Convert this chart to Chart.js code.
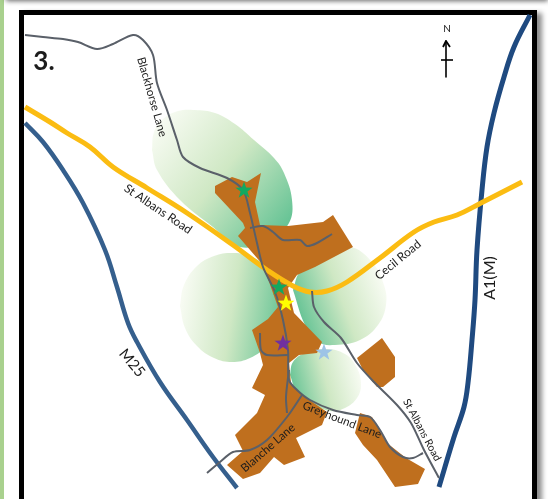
<!DOCTYPE html>
<html>
<head>
<meta charset="utf-8">
<title>Map 3</title>
<script src="https://cdn.jsdelivr.net/npm/chart.js@4"></script>
<style>
  html, body { margin: 0; padding: 0; background: #fff; overflow: hidden; }
  #strip { position: absolute; left: 0; top: 0; width: 4px; height: 499px; background: #a9d18e; }
  #topshade { position: absolute; left: 6px; top: -8px; width: 542px; height: 8px; box-shadow: 0 1px 5px rgba(0,0,0,.6); }
  #frame { position: absolute; left: 19px; top: 10px; width: 508px; height: 520px; border: 5px solid #000; box-shadow: 5px 3px 5px rgba(0,0,0,.45); background: #fff; }
  canvas { position: absolute; left: 0; top: 0; }
</style>
</head>
<body>
<div id="strip"></div>
<div id="topshade"></div>
<div id="frame"></div>
<canvas id="map" width="548" height="499"></canvas>
<script>
// roads as [x, y]
const blackhorseLane = [[25,35],[43,37],[63,39],[78,42],[97,49],[113,44],[133,35],[143,40],[153,55],[157,83],[167,110],[177,140],[183,157],[200,168],[227,178],[243,190],[250,213],[257,243],[263,267],[275,292],[283,320],[288,350],[289,380],[297,390],[310,400],[333,410],[357,415],[370,417],[380,430],[390,447],[403,457],[413,458],[423,453]];
const sideRoadNorth = [[250,228],[263,226],[273,232],[283,240],[300,240],[307,246],[317,243],[332,234]];
const sideRoadWest = [[260,333],[261,350],[267,355],[288,355]];
const sideRoadSouth = [[289,370],[286,397],[287,413]];
const blancheLane = [[207,473],[220,462],[233,452],[250,450],[267,440],[287,417],[302,395]];
const stAlbansGrey = [[312,291],[314,307],[324,322],[341,338],[357,363],[374,382],[397,405],[411,423],[424,450],[439,478]];
const stAlbansYellow = [[25,107],[50,122],[67,133],[90,147],[113,167],[147,188],[187,213],[233,245],[267,270],[293,286],[310,292],[327,291],[347,282],[380,258],[414,232],[434,222],[457,215],[481,203],[522,182]];
const a1m = [[530,15],[514,47],[504,77],[494,113],[487,147],[482,190],[477,250],[475,300],[472,340],[468,383],[464,407],[454,437],[439,487]];
const m25 = [[25,123],[43,142],[63,170],[83,203],[105,250],[117,287],[128,323],[137,342],[160,382],[187,420],[213,457],[237,488]];

// built-up areas
const builtMain = [[215,186],[232,177],[247,182],[261,173],[255,202],[260,225],[288,226],[323,222],[333,215],[353,247],[315,267],[297,275],[288,288],[294,313],[322,342],[317,353],[299,355],[289,363],[291,383],[302,395],[327,412],[322,425],[296,438],[305,457],[284,465],[274,457],[260,473],[243,479],[227,465],[243,451],[235,435],[257,413],[265,395],[252,388],[263,365],[260,353],[252,330],[268,319],[278,307],[263,265],[238,236],[245,228],[243,223],[215,193]];
const builtEast = [[357,358],[382,338],[395,357],[395,377],[383,387],[377,387],[363,370]];
const builtSouth = [[360,413],[372,417],[387,443],[406,458],[425,469],[418,484],[395,487],[377,460],[363,445],[355,433]];

// green buffer zones
const zoneNorth = [[152,150],[154,132],[163,119],[178,111],[195,110],[215,113],[235,124],[254,140],[274,158],[284,173],[292,200],[289,223],[270,240],[240,247],[213,227],[180,200],[157,170],[152,150]];
const zoneWest = [[180,306],[184,285],[197,266],[214,256],[232,253],[250,256],[268,268],[281,287],[285,306],[281,326],[268,345],[250,358],[232,362],[214,358],[197,346],[185,328],[180,306]];
const zoneEast = [[293,290],[300,272],[325,255],[350,247],[372,262],[384,285],[386,305],[378,325],[360,340],[335,345],[318,342],[305,325],[293,290]];
const zoneSouth = [[290,375],[293,362],[305,353],[325,349],[345,354],[357,368],[361,385],[357,398],[345,408],[330,411],[312,403],[297,392],[290,375]];

// sites
const siteX = [244, 279, 286, 283, 324];
const siteY = [190, 287, 303, 343, 352];
const siteColours = ['#12a860', '#12a860', '#ffff00', '#7030a0', '#9dc3e6'];

// north arrow
const arrowShaft = [[446,41],[446,77]];
const arrowBar = [[441,60],[453,60]];
const arrowHead = [[443,47],[446,41],[450,47]];

// labels
const labelNames = ['St Albans Road', 'Blackhorse Lane', 'Cecil Road', 'M25', 'A1(M)', 'Blanche Lane', 'Greyhound Lane', 'St Albans Road', 'N', '3.'];
const labelX = [158, 152, 398, 132, 490, 268, 342, 422, 447, 44];
const labelY = [209, 97, 260, 363, 278, 448, 420, 430, 29, 62];
const labelAngle = [34, 74, -39, 50, -90, -41, 21, 62, 0, 0];
const labelSize = [12, 11.5, 12, 15, 16, 11.5, 11.5, 10.5, 10, 26];

function pts(list) {
  return list.map(p => ({ x: p[0], y: p[1] }));
}

function road(list, colour, width, tension) {
  return { data: pts(list), showLine: true, borderColor: colour, borderWidth: width, pointRadius: 0, tension: tension, fill: false, borderCapStyle: 'butt', borderJoinStyle: 'round' };
}

function area(list) {
  return { data: pts(list.concat([list[0]])), showLine: true, borderWidth: 0, borderColor: 'transparent', backgroundColor: '#bf6f1e', pointRadius: 0, tension: 0, fill: 'shape' };
}

// gradient runs pale -> green between two map positions
function zone(list, from, to) {
  return {
    data: pts(list), showLine: true, borderWidth: 0, borderColor: 'transparent', pointRadius: 0, tension: 0.4, fill: 'shape',
    backgroundColor: function (c) {
      const s = c.chart.scales;
      if (!c.chart.chartArea) return '#d5ebcb';
      const g = c.chart.ctx.createLinearGradient(s.x.getPixelForValue(from[0]), s.y.getPixelForValue(from[1]), s.x.getPixelForValue(to[0]), s.y.getPixelForValue(to[1]));
      g.addColorStop(0, '#f7fbf2');
      g.addColorStop(0.5, '#cfe8c4');
      g.addColorStop(1, '#68c496');
      return g;
    }
  };
}

function starIcon(colour) {
  const size = 18, c = document.createElement('canvas');
  c.width = c.height = size;
  const g = c.getContext('2d');
  g.fillStyle = colour;
  g.beginPath();
  for (let i = 0; i < 10; i++) {
    const r = i % 2 ? 3.6 : 9, a = -Math.PI / 2 + i * Math.PI / 5;
    g.lineTo(9 + r * Math.cos(a), 9.5 + r * Math.sin(a));
  }
  g.closePath();
  g.fill();
  return c;
}

// text on the map, turned to follow the roads
const mapLabels = {
  id: 'mapLabels',
  afterDatasetsDraw(chart) {
    const ctx = chart.ctx, s = chart.scales;
    labelNames.forEach((name, i) => {
      ctx.save();
      ctx.translate(s.x.getPixelForValue(labelX[i]), s.y.getPixelForValue(labelY[i]));
      ctx.rotate(labelAngle[i] * Math.PI / 180);
      ctx.font = (name === '3.' ? 'bold ' : '') + labelSize[i] + 'px Lato, "Open Sans", sans-serif';
      ctx.fillStyle = '#1c1c1c';
      ctx.textAlign = 'center';
      ctx.textBaseline = 'middle';
      ctx.fillText(name, 0, 0);
      ctx.restore();
    });
  }
};

// back to front
const layers = [
  zone(zoneNorth, [158, 125], [285, 225]),
  zone(zoneWest, [182, 300], [283, 315]),
  zone(zoneEast, [384, 285], [300, 315]),
  zone(zoneSouth, [360, 375], [293, 392]),
  area(builtMain),
  area(builtEast),
  area(builtSouth),
  road(m25, '#355f8d', 4.5, 0.4),
  road(a1m, '#1f4a80', 5, 0.4),
  road(stAlbansYellow, '#fbbc12', 5, 0.4),
  road(blackhorseLane, '#5a6069', 2, 0.3),
  road(sideRoadNorth, '#5a6069', 2, 0.3),
  road(sideRoadWest, '#5a6069', 2, 0.3),
  road(sideRoadSouth, '#5a6069', 2, 0.3),
  road(blancheLane, '#5a6069', 2, 0.3),
  road(stAlbansGrey, '#5a6069', 2, 0.3),
  road(arrowShaft, '#000', 1.6, 0),
  road(arrowBar, '#000', 1.6, 0),
  road(arrowHead, '#000', 1.8, 0),
  {
    data: siteX.map((x, i) => ({ x: x, y: siteY[i] })),
    showLine: false,
    pointStyle: siteColours.map(starIcon),
    pointRadius: 9
  }
];
layers.forEach((d, i) => { d.order = layers.length - i; });

new Chart(document.getElementById('map').getContext('2d'), {
  type: 'scatter',
  data: { datasets: layers },
  plugins: [mapLabels],
  options: {
    responsive: false,
    animation: false,
    layout: { padding: 0, autoPadding: false },
    plugins: { legend: { display: false }, tooltip: { enabled: false } },
    scales: {
      x: { display: false, min: 0, max: 548 },
      y: { display: false, min: 0, max: 499, reverse: true }
    }
  }
});
</script>
</body>
</html>
